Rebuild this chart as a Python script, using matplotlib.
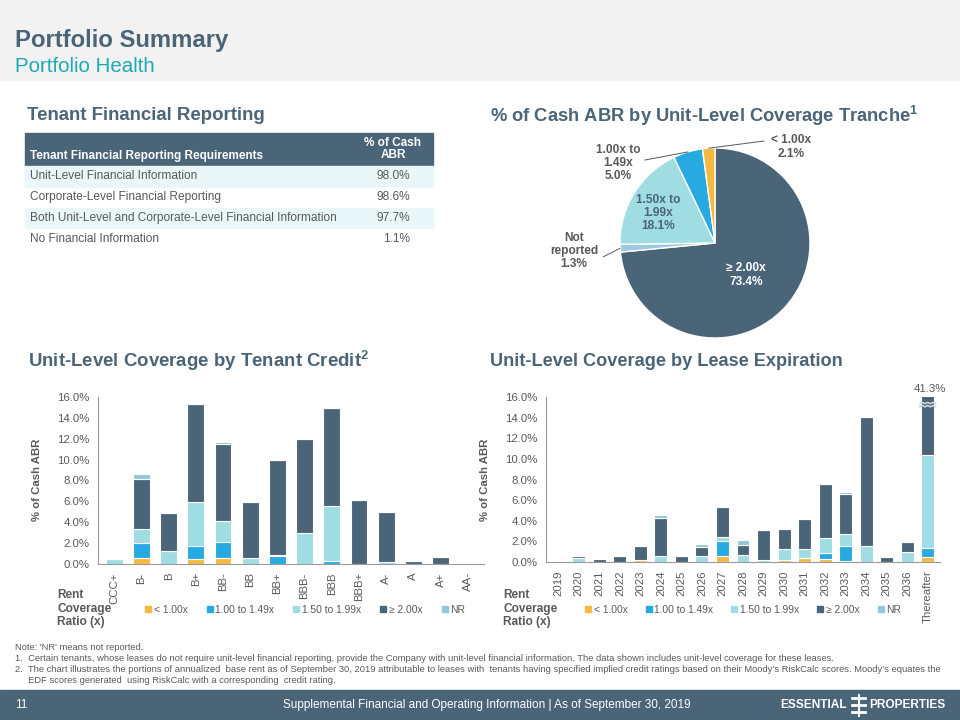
import matplotlib
matplotlib.use("Agg")
import matplotlib.pyplot as plt
import numpy as np
from matplotlib.patches import Rectangle
from matplotlib.lines import Line2D

plt.rcParams['font.family'] = ['Liberation Sans', 'DejaVu Sans']
NARROW = ['Liberation Sans Narrow', 'Liberation Sans', 'DejaVu Sans']

# ---------------- data ----------------
table_header = ["Tenant Financial Reporting Requirements", "% of Cash\nABR"]
table_rows = ["Unit-Level Financial Information",
              "Corporate-Level Financial Reporting",
              "Both Unit-Level and Corporate-Level Financial Information",
              "No Financial Information"]
table_values = ["98.0%", "98.6%", "97.7%", "1.1%"]

pie_labels = ["\u2265 2.00x", "Not\nreported", "1.50x to\n1.99x", "1.00x to\n1.49x", "< 1.00x"]
pie_values = [73.4, 1.3, 18.1, 5.0, 2.1]

series_names = ["< 1.00x", "1.00 to 1.49x", "1.50 to 1.99x", "\u2265 2.00x", "NR"]
legend_title_lines = ["Rent", "Coverage", "Ratio (x)"]

credit_cats = ["CCC+", "B-", "B", "B+", "BB-", "BB", "BB+", "BBB-", "BBB", "BBB+", "A-", "A", "A+", "AA-"]
credit_lt100 = [0.0, 0.6, 0.0, 0.5, 0.6, 0.0, 0.0, 0.0, 0.0, 0.0, 0.0, 0.0, 0.0, 0.0]
credit_100_149 = [0.0, 1.4, 0.0, 1.25, 1.55, 0.0, 0.75, 0.0, 0.3, 0.0, 0.0, 0.0, 0.0, 0.0]
credit_150_199 = [0.45, 1.4, 1.2, 4.15, 1.95, 0.6, 0.1, 2.95, 5.3, 0.0, 0.2, 0.0, 0.0, 0.0]
credit_ge200 = [0.0, 4.75, 3.7, 9.45, 7.35, 5.35, 9.15, 9.05, 9.35, 6.15, 4.8, 0.3, 0.7, 0.0]
credit_nr = [0.0, 0.5, 0.0, 0.0, 0.25, 0.0, 0.0, 0.0, 0.0, 0.0, 0.0, 0.0, 0.0, 0.0]

lease_cats = ["2019", "2020", "2021", "2022", "2023", "2024", "2025", "2026", "2027", "2028",
              "2029", "2030", "2031", "2032", "2033", "2034", "2035", "2036", "Thereafter"]
lease_lt100 = [0.0, 0.0, 0.0, 0.0, 0.15, 0.0, 0.0, 0.0, 0.58, 0.0, 0.0, 0.15, 0.35, 0.25, 0.05, 0.0, 0.0, 0.0, 0.45]
lease_100_149 = [0.0, 0.0, 0.0, 0.0, 0.0, 0.0, 0.0, 0.0, 1.42, 0.0, 0.0, 0.0, 0.0, 0.6, 1.5, 0.0, 0.0, 0.0, 0.9]
lease_150_199 = [0.0, 0.35, 0.0, 0.0, 0.0, 0.55, 0.0, 0.58, 0.47, 0.68, 0.2, 1.12, 0.92, 1.5, 1.2, 1.52, 0.0, 0.97, 9.05]
lease_ge200 = [0.0, 0.2, 0.3, 0.55, 1.4, 3.73, 0.62, 0.88, 2.85, 0.97, 2.88, 1.91, 2.88, 5.21, 3.83, 12.56, 0.45, 0.94, 30.9]
lease_nr = [0.0, 0.0, 0.0, 0.0, 0.0, 0.29, 0.0, 0.26, 0.0, 0.45, 0.0, 0.0, 0.0, 0.0, 0.16, 0.0, 0.0, 0.0, 0.0]

# ---------------- style ----------------
DARK = '#4A6478'
TEAL = '#A0DDE3'
BLUE = '#27A9E1'
YELLOW = '#F6B940'
NRC = '#93C8D8'
GREY = '#595959'
series_colors = [YELLOW, BLUE, TEAL, DARK, NRC]

W, H = 960, 720
fig = plt.figure(figsize=(9.6, 7.2), dpi=100)


def fx(x):
    return x / W


def fy(y):
    return 1 - y / H


def add_axes_px(left, top, right, bottom, **kw):
    return fig.add_axes([fx(left), fy(bottom), (right - left) / W, (bottom - top) / H], **kw)


# header band / footer band
fig.patches.append(Rectangle((0, fy(80)), 1, 80 / H, transform=fig.transFigure, color='#F2F2F2', zorder=0))
fig.patches.append(Rectangle((0, 0), 1, 30 / H, transform=fig.transFigure, color=DARK, zorder=0))

fig.text(fx(15), fy(40), "Portfolio Summary", fontsize=17.2, fontweight='bold', color=DARK, va='center')
fig.text(fx(15), fy(67), "Portfolio Health", fontsize=14.8, color='#1DAAB3', va='center')

fig.text(fx(27), fy(116), "Tenant Financial Reporting", fontsize=13.4, fontweight='bold', color=DARK, va='center')
fig.text(fx(490), fy(116), "% of Cash ABR by Unit-Level Coverage Tranche$^{\\mathregular{1}}$", fontsize=13.2,
         fontweight='bold', color=DARK, va='center')
fig.text(fx(28), fy(361), "Unit-Level Coverage by Tenant Credit$^{\\mathregular{2}}$", fontsize=13.4,
         fontweight='bold', color=DARK, va='center')
fig.text(fx(490), fy(361), "Unit-Level Coverage by Lease Expiration", fontsize=13.1,
         fontweight='bold', color=DARK, va='center')

# ---------------- table ----------------
tx0, tx1 = 25, 433
fig.patches.append(Rectangle((fx(tx0), fy(166)), (tx1 - tx0) / W, 33 / H, transform=fig.transFigure,
                             color=DARK, zorder=1))
fig.text(fx(30), fy(156), table_header[0], fontsize=8.5, fontweight='bold', color='white', va='center')
fig.text(fx(393), fy(149), table_header[1], fontsize=8.5, fontweight='bold', color='white', va='center',
         ha='center', linespacing=1.1)
row_top = 166
row_h = 20.8
for i, (lab, val) in enumerate(zip(table_rows, table_values)):
    top = row_top + i * row_h
    if i % 2 == 0:
        fig.patches.append(Rectangle((fx(tx0), fy(top + row_h)), (tx1 - tx0) / W, row_h / H,
                                     transform=fig.transFigure, color='#EAF7F9', zorder=1))
    fig.text(fx(30), fy(top + row_h / 2), lab, fontsize=8.6, color=GREY, va='center')
    fig.text(fx(410), fy(top + row_h / 2), val, fontsize=8.6, color=GREY, va='center', ha='right')

# ---------------- pie ----------------
cx, cy, R = 715, 243, 95
half = 150
pax = add_axes_px(cx - half, cy - half, cx + half, cy + half)
lim = half / R
pie_colors = [DARK, '#9CC9DF', TEAL, BLUE, YELLOW]
wedges, _ = pax.pie(pie_values, colors=pie_colors, startangle=90, counterclock=False, radius=1,
                    wedgeprops=dict(edgecolor='white', linewidth=1.0))
pax.set_xlim(-lim, lim)
pax.set_ylim(-lim, lim)
pax.set_aspect('equal')
pax.axis('off')


def d(x, y):
    return ((x - cx) / R, (cy - y) / R)


lab_kw = dict(fontsize=8.6, fontweight='bold', ha='center', va='center', linespacing=1.15)
pax.text(*d(746, 275), f"{pie_labels[0]}\n{pie_values[0]:.1f}%", color='white', **lab_kw)
pax.text(*d(658, 213), f"{pie_labels[2]}\n{pie_values[2]:.1f}%", color=DARK, **lab_kw)


def edge_pt(w, frac=0.5, r=1.0):
    ang = np.deg2rad(w.theta1 + (w.theta2 - w.theta1) * frac)
    return (r * np.cos(ang), r * np.sin(ang))


# Not reported
pax.text(*d(574, 251), f"{pie_labels[1]}\n{pie_values[1]:.1f}%", color=GREY, **lab_kw)
pax.plot([d(603, 257)[0], edge_pt(wedges[1])[0]], [d(603, 257)[1], edge_pt(wedges[1])[1]],
         color=GREY, lw=0.7, solid_capstyle='butt')
# 1.00 to 1.49
pax.text(*d(618, 163), f"{pie_labels[3]}\n{pie_values[3]:.1f}%", color=GREY, **lab_kw)
pax.plot([d(645, 160)[0], edge_pt(wedges[3])[0]], [d(645, 160)[1], edge_pt(wedges[3])[1]],
         color=GREY, lw=0.7)
# < 1.00
pax.text(*d(791, 147), f"{pie_labels[4]}\n{pie_values[4]:.1f}%", color=GREY, **lab_kw)
pax.plot([d(764, 141)[0], edge_pt(wedges[4])[0]], [d(764, 141)[1], edge_pt(wedges[4])[1]],
         color=GREY, lw=0.7)


# ---------------- bar charts ----------------
def stacked(ax, cats, series, width):
    x = np.arange(len(cats))
    bottom = np.zeros(len(cats))
    for vals, col, name in zip(series, series_colors, series_names):
        v = np.array(vals)
        ax.bar(x, v, width, bottom=bottom, color=col, edgecolor='white', linewidth=0.8, label=name)
        bottom = bottom + v
    ax.set_ylim(0, 16)
    ax.set_xlim(-0.6, len(cats) - 0.4)
    ax.set_yticks(np.arange(0, 16.01, 2))
    ax.set_yticklabels([f"{t:.1f}%" for t in np.arange(0, 16.01, 2)])
    ax.set_xticks(x)
    ax.set_xticklabels(cats, rotation=90)
    ax.tick_params(length=0, labelsize=8.2, labelcolor=GREY, pad=6)
    for s in ['top', 'right']:
        ax.spines[s].set_visible(False)
    for s in ['left', 'bottom']:
        ax.spines[s].set_color('#9A9A9A')
        ax.spines[s].set_linewidth(0.8)
    return x, bottom


def legend_block(x_label, x_leg, y, spacing):
    for k, line in enumerate(legend_title_lines):
        fig.text(fx(x_label), fy(y + (k - 1) * 13.5), line, fontsize=8.6, fontweight='bold', color=GREY,
                 va='center', ha='left')
    handles = [Line2D([], [], marker='s', linestyle='none', markersize=3.8, color=c) for c in series_colors]
    fig.legend(handles, series_names, loc='center left', bbox_to_anchor=(fx(x_leg), fy(y + 1)),
               ncol=5, frameon=False, fontsize=7.4, labelcolor=GREY, handletextpad=0.15,
               columnspacing=spacing, handlelength=0.8, borderpad=0, borderaxespad=0)


ax1 = add_axes_px(98, 397, 484, 564)
stacked(ax1, credit_cats, [credit_lt100, credit_100_149, credit_150_199, credit_ge200, credit_nr], 0.62)
fig.text(fx(37), fy(480), "% of Cash ABR", rotation=90, fontsize=8.2, fontweight='bold', color=GREY,
         ha='center', va='center')
legend_block(57, 144, 609, 1.75)

ax2 = add_axes_px(546, 397, 940, 562)
x2, tot2 = stacked(ax2, lease_cats, [lease_lt100, lease_100_149, lease_150_199, lease_ge200, lease_nr], 0.63)
fig.text(fx(485), fy(480), "% of Cash ABR", rotation=90, fontsize=8.2, fontweight='bold', color=GREY,
         ha='center', va='center')
legend_block(503, 584, 609, 1.65)
# broken bar marker for Thereafter
ib = len(lease_cats) - 1
ax2.text(x2[ib] + 0.1, 16.3, f"{tot2[ib]:.1f}%", ha='center', va='bottom', fontsize=8.2, color=GREY, clip_on=False)
for yy in (15.05, 15.35):
    xs = np.linspace(x2[ib] - 0.38, x2[ib] + 0.38, 7)
    ys = yy + np.array([0, 0.12, 0, 0.12, 0, 0.12, 0])
    ax2.plot(xs, ys, color='#C8D6E0', lw=1.2, clip_on=False)

# ---------------- footnotes ----------------
notes = [
    "Note: 'NR' means not reported.",
    "1.  Certain tenants, whose leases do not require unit-level financial reporting, provide the Company with unit-level financial information. The data shown includes unit-level coverage for these leases.",
    "2.  The chart illustrates the portions of annualized  base rent as of September 30, 2019 attributable to leases with  tenants having specified implied credit ratings based on their Moody\u2019s RiskCalc scores. Moody\u2019s equates the",
    "     EDF scores generated  using RiskCalc with a corresponding  credit rating.",
]
for i, n in enumerate(notes):
    fig.text(fx(15), fy(647 + i * 11.2), n, fontsize=6.75, color=GREY, va='center', family=NARROW)

# ---------------- footer ----------------
fig.text(fx(15), fy(705), "11", fontsize=8.5, color='white', va='center', family=NARROW)
fig.text(fx(487), fy(705), "Supplemental Financial and Operating Information | As of September 30, 2019",
         fontsize=8.5, color='white', va='center', ha='center', family=NARROW)
fig.text(fx(847), fy(705), "ESSENTIAL", fontsize=8.6, fontweight='bold', color='white', va='center',
         ha='right', family=NARROW)
fig.text(fx(869), fy(705), "PROPERTIES", fontsize=8.6, fontweight='bold', color='white', va='center',
         ha='left', family=NARROW)
for yy in (698, 705, 712):
    fig.lines.append(Line2D([fx(852), fx(865)], [fy(yy), fy(yy)], transform=fig.transFigure,
                            color='white', lw=2))
fig.lines.append(Line2D([fx(858.5), fx(858.5)], [fy(695), fy(716)], transform=fig.transFigure, color='white', lw=1.5))

fig.savefig("out.png", dpi=100)
